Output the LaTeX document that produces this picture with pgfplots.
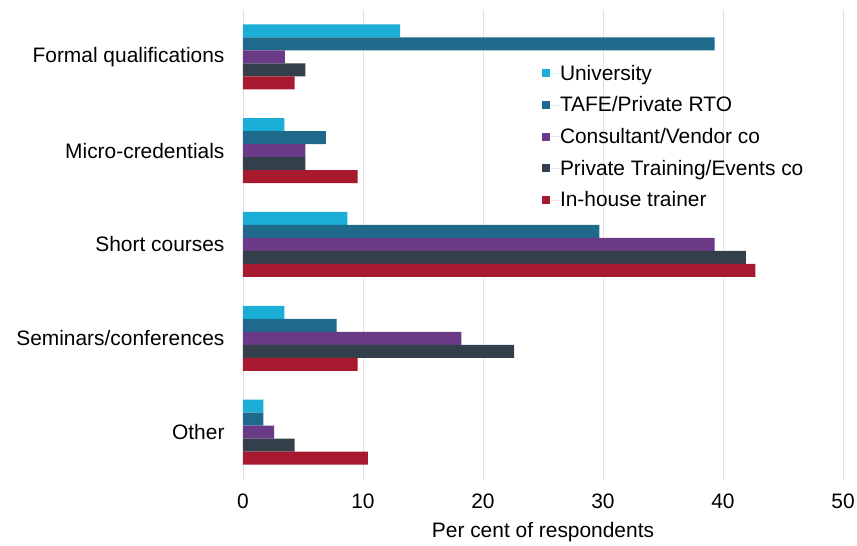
\documentclass[border=0pt]{standalone}
\usepackage{pgfplots}
\pgfplotsset{compat=1.18}
\usepackage{fontspec}
\setmainfont{Liberation Sans}
\definecolor{cUni}{HTML}{1BAED6}
\definecolor{cTafe}{HTML}{1F6A8A}
\definecolor{cCons}{HTML}{6A3A87}
\definecolor{cPriv}{HTML}{333F4B}
\definecolor{cIn}{HTML}{A6192E}
\begin{document}
\begin{tikzpicture}
\begin{axis}[
  scale only axis,
  width=600bp, height=469bp,
  xmin=0, xmax=50,
  ymin=-0.5, ymax=4.5,
  xbar=0pt,
  bar width=13bp,
  xtick={0,10,20,30,40,50},
  ytick={0,1,2,3,4},
  yticklabels={Other,Seminars/conferences,Short courses,Micro-credentials,Formal qualifications},
  /pgf/number format/assume math mode=true,
  font=\fontsize{21}{25}\selectfont,
  tick label style={font=\fontsize{21}{25}\selectfont},
  yticklabel style={xshift=-15bp},
  xticklabel style={yshift=-11bp},
  xlabel={Per cent of respondents},
  xlabel style={yshift=-7bp},
  axis line style={draw=none},
  major tick length=0pt,
  xmajorgrids,
  major grid style={draw=black!12, line width=0.8bp},
  legend style={draw=none, fill=none, at={(0.498,0.883)}, anchor=north west,
    font=\fontsize{21}{25}\selectfont, row sep=15bp, inner sep=0pt,
    nodes={inner sep=0pt}},
  legend cell align=left,
  legend image code/.code={\fill[#1] (0bp,-4bp) rectangle (8bp,4bp); \path (0bp,0bp) -- (18bp,0bp);},
]
\addplot[fill=cUni, draw=none, bar shift=26bp] coordinates {(1.7,0) (3.45,1) (8.7,2) (3.45,3) (13.1,4)};
\addplot[fill=cTafe, draw=none, bar shift=13bp] coordinates {(1.7,0) (7.8,1) (29.7,2) (6.9,3) (39.3,4)};
\addplot[fill=cCons, draw=none, bar shift=0bp] coordinates {(2.6,0) (18.2,1) (39.3,2) (5.2,3) (3.5,4)};
\addplot[fill=cPriv, draw=none, bar shift=-13bp] coordinates {(4.3,0) (22.6,1) (41.9,2) (5.2,3) (5.2,4)};
\addplot[fill=cIn, draw=none, bar shift=-26bp] coordinates {(10.4,0) (9.55,1) (42.7,2) (9.55,3) (4.3,4)};
\legend{University,TAFE/Private RTO,Consultant/Vendor co,Private Training/Events co,In-house trainer}
\end{axis}
\pgfresetboundingbox
\path (current axis.south west) ++(-243bp,-67bp) rectangle ++(857bp,546bp);
\end{tikzpicture}
\end{document}
